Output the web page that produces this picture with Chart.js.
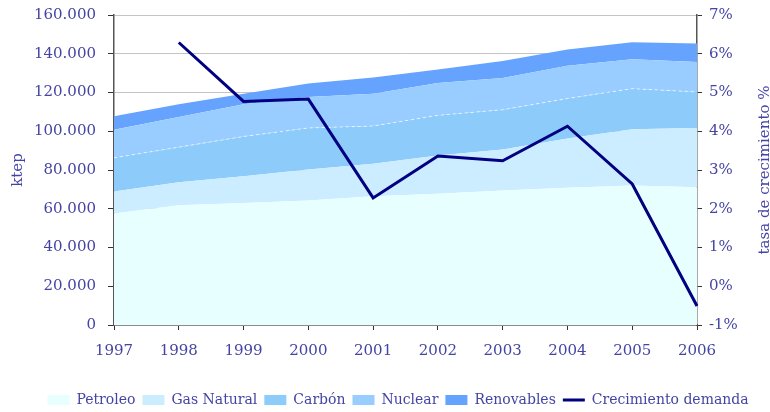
<!DOCTYPE html>
<html>
<head>
<meta charset="utf-8">
<script src="https://cdn.jsdelivr.net/npm/chart.js@4"></script>
<style>
  html, body { margin: 0; padding: 0; background: #fff; }
  #wrap { width: 770px; height: 412px; position: relative; }
</style>
</head>
<body>
<div id="wrap"><canvas id="chart"></canvas></div>
<script>
// Consumo de energía primaria (ktep) y crecimiento de la demanda (%)
const years = ['1997', '1998', '1999', '2000', '2001', '2002', '2003', '2004', '2005', '2006'];
const petroleo = [57600, 61800, 63000, 64200, 66500, 67700, 69400, 70800, 72000, 71100];
const gasNatural = [11300, 11900, 13800, 16100, 16700, 19800, 21200, 25400, 29000, 30600];
const carbon = [17400, 18100, 20500, 21400, 19500, 20700, 20500, 20700, 21000, 18600];
const nuclear = [14500, 15500, 16600, 16000, 16700, 16700, 16400, 16900, 15200, 15400];
const renovables = [6900, 6600, 5500, 6900, 8300, 7000, 8800, 8400, 8700, 9600];
const crecimiento = [null, 6.29, 4.77, 4.83, 2.28, 3.36, 3.24, 4.13, 2.64, -0.51];

const textColor = '#4444a4';
const fontFamily = '"DejaVu Serif", "Liberation Serif", serif';
const fontSize = 15;

function miles(v) {
    return String(v).replace(/\B(?=(\d{3})+(?!\d))/g, '.');
}

function area(label, data, color, fill) {
    return {
        label: label,
        data: data,
        backgroundColor: color,
        borderColor: color,
        borderWidth: 0,
        fill: fill,
        pointRadius: 0,
        pointStyle: 'rect',
        tension: 0,
        yAxisID: 'y',
        order: 1
    };
}

const carbonSet = area('Carbón', carbon, '#8ccbfa', '-1');
carbonSet.borderColor = 'rgba(255, 255, 255, 0.7)';
carbonSet.borderWidth = 1;
carbonSet.borderDash = [3, 3];

// both axis titles read bottom-to-top, drawn by hand so they sit where the original has them
const axisTitles = {
    id: 'axisTitles',
    afterDraw(chart) {
        const ctx = chart.ctx;
        const area = chart.chartArea;
        const midY = (area.top + area.bottom) / 2;
        ctx.save();
        ctx.font = fontSize + 'px ' + fontFamily;
        ctx.fillStyle = textColor;
        ctx.textAlign = 'center';
        ctx.textBaseline = 'middle';
        [[18, 'ktep'], [765, 'tasa de crecimiento %']].forEach(([x, text]) => {
            ctx.save();
            ctx.translate(x, midY);
            ctx.rotate(-Math.PI / 2);
            ctx.fillText(text, 0, 0);
            ctx.restore();
        });
        ctx.restore();
    }
};

Chart.defaults.font.family = fontFamily;
Chart.defaults.font.size = fontSize;
Chart.defaults.color = textColor;

new Chart(document.getElementById('chart'), {
    type: 'line',
    data: {
        labels: years,
        datasets: [
            area('Petroleo', petroleo, '#e8ffff', 'origin'),
            area('Gas Natural', gasNatural, '#ccecff', '-1'),
            carbonSet,
            area('Nuclear', nuclear, '#99ccff', '-1'),
            area('Renovables', renovables, '#66a3ff', '-1'),
            {
                label: 'Crecimiento demanda',
                data: crecimiento,
                borderColor: '#000080',
                backgroundColor: '#000080',
                borderWidth: 3,
                pointRadius: 0,
                pointStyle: 'line',
                fill: false,
                tension: 0,
                yAxisID: 'y1',
                order: 0
            }
        ]
    },
    options: {
        responsive: true,
        maintainAspectRatio: false,
        animation: false,
        layout: {
            padding: { top: 0, left: 26, right: 0, bottom: -5 }
        },
        plugins: {
            tooltip: { enabled: false },
            legend: {
                position: 'bottom',
                labels: {
                    usePointStyle: true,
                    pointStyleWidth: 22,
                    boxWidth: 22,
                    boxHeight: 10,
                    padding: 7,
                    font: { size: 14 },
                    color: textColor,
                    sort: (a, b) => a.datasetIndex - b.datasetIndex,
                    generateLabels(chart) {
                        const items = Chart.defaults.plugins.legend.labels.generateLabels(chart);
                        items.forEach(item => {
                            if (item.pointStyle === 'line') {
                                item.strokeStyle = '#000080';
                                item.lineWidth = 3;
                            } else {
                                item.lineWidth = 0;
                                item.lineDash = [];
                            }
                        });
                        return items;
                    }
                }
            }
        },
        scales: {
            x: {
                offset: false,
                afterFit(scale) { scale.height = 61; },
                grid: {
                    drawOnChartArea: false,
                    tickColor: '#333',
                    tickLength: 5
                },
                border: { color: '#555', width: 1.5 },
                ticks: { padding: 12, maxRotation: 0 }
            },
            y: {
                position: 'left',
                stacked: true,
                min: 0,
                max: 160000,
                afterFit(scale) { scale.width = 88; },
                ticks: {
                    stepSize: 20000,
                    padding: 12,
                    font: { lineHeight: 0.4 },
                    callback: v => miles(v)
                },
                grid: {
                    color: '#c4c4c4',
                    tickColor: '#333',
                    tickLength: 6
                },
                border: { color: '#555', width: 1.5 }
            },
            y1: {
                position: 'right',
                min: -1,
                max: 7,
                afterFit(scale) { scale.width = 73; },
                ticks: {
                    stepSize: 1,
                    padding: 7,
                    font: { lineHeight: 0.4 },
                    callback: v => v + '%'
                },
                grid: {
                    drawOnChartArea: false,
                    tickColor: '#333',
                    tickLength: 5
                },
                border: { color: '#555', width: 1.5 }
            }
        }
    },
    plugins: [axisTitles]
});
</script>
</body>
</html>
